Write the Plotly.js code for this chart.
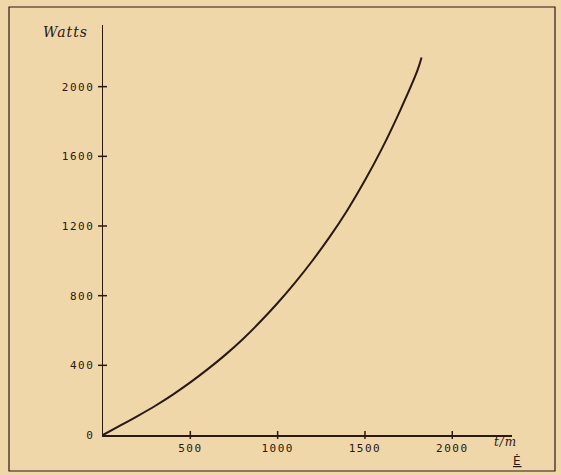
<!DOCTYPE html>
<html>
<head>
<meta charset="utf-8">
<script src="https://cdn.plot.ly/plotly-3.0.1.min.js"></script>
<style>
  html, body { margin: 0; padding: 0; background: #efd7aa; }
  #chart { width: 561px; height: 475px; }
  .xtick text, .ytick text { letter-spacing: 1.5px; }
  .annotation-text { letter-spacing: 1px; }
</style>
</head>
<body>
<div id="chart"></div>
<script>
// Data
const speed = [0, 100, 200, 300, 400, 500, 600, 700, 800, 900, 1000, 1100, 1200, 1300, 1400, 1500, 1600, 1700, 1800, 1824];
const watts = [0, 55, 110, 168, 232, 302, 378, 460, 550, 650, 758, 875, 1002, 1140, 1292, 1462, 1650, 1860, 2092, 2168];
const xTicks = [500, 1000, 1500, 2000];
const xTickLabels = ['500', '1000', '1500', '2000'];
const yTicks = [0, 400, 800, 1200, 1600, 2000];
const yTickLabels = ['0', '400', '800', '1200', '1600', '2000'];

const W = 561, H = 475;
const M = {l: 103, r: 49, t: 25, b: 40};
const pw = W - M.l - M.r, ph = H - M.t - M.b;
const px = x => (x - M.l) / pw;
const py = y => (H - M.b - y) / ph;

const ink = '#2a1812';
const paperBg = '#efd7aa';

const curve = {
  x: speed, y: watts, type: 'scatter', mode: 'lines',
  line: {color: ink, width: 2, shape: 'spline', smoothing: 1},
  hoverinfo: 'skip'
};

const tickFont = {family: 'DejaVu Sans Mono, monospace', size: 11, color: ink};
const xRange = [0, 2342], yRange = [0, 2354];

// crossing tick marks (half outside, half inside the axis line)
const tickShapes = [];
xTicks.forEach(v => tickShapes.push({
  type: 'line', xref: 'x', yref: 'paper',
  x0: v, x1: v, y0: -4 / ph, y1: 4 / ph, line: {color: ink, width: 1.5}
}));
yTicks.slice(1).forEach(v => tickShapes.push({
  type: 'line', xref: 'paper', yref: 'y',
  y0: v, y1: v, x0: -5 / pw, x1: 4 / pw, line: {color: ink, width: 1.5}
}));

const layout = {
  width: W, height: H,
  margin: M,
  paper_bgcolor: paperBg, plot_bgcolor: paperBg,
  showlegend: false,
  xaxis: {
    range: xRange, showgrid: false, zeroline: false,
    showline: true, linecolor: ink, linewidth: 1.5,
    tickvals: xTicks, ticktext: xTickLabels,
    ticks: '', ticklabelstandoff: 2,
    tickfont: tickFont
  },
  yaxis: {
    range: yRange, showgrid: false, zeroline: false,
    showline: true, linecolor: ink, linewidth: 1.5,
    tickvals: yTicks, ticktext: yTickLabels,
    ticks: '', ticklabelstandoff: 5,
    tickfont: tickFont
  },
  shapes: [{
    type: 'rect', xref: 'paper', yref: 'paper',
    x0: px(9), x1: px(555), y0: py(471), y1: py(7),
    line: {color: ink, width: 1.2}, fillcolor: 'rgba(0,0,0,0)', layer: 'below'
  }].concat(tickShapes),
  annotations: [
    {xref: 'paper', yref: 'paper', x: px(65), y: py(32), xanchor: 'center', yanchor: 'middle',
     text: '<i>Watts</i>', showarrow: false,
     font: {family: 'DejaVu Serif, serif', size: 14, color: ink}},
    {xref: 'paper', yref: 'paper', x: px(505), y: py(442), xanchor: 'center', yanchor: 'middle',
     text: '<i>t/m</i>', showarrow: false,
     font: {family: 'DejaVu Serif, serif', size: 12, color: ink}},
    {xref: 'paper', yref: 'paper', x: px(517), y: py(460), xanchor: 'center', yanchor: 'middle',
     text: '<u>Ė</u>', showarrow: false,
     font: {family: 'DejaVu Sans, sans-serif', size: 12, color: ink}}
  ]
};

Plotly.newPlot('chart', [curve], layout, {staticPlot: true, displayModeBar: false});
</script>
</body>
</html>
